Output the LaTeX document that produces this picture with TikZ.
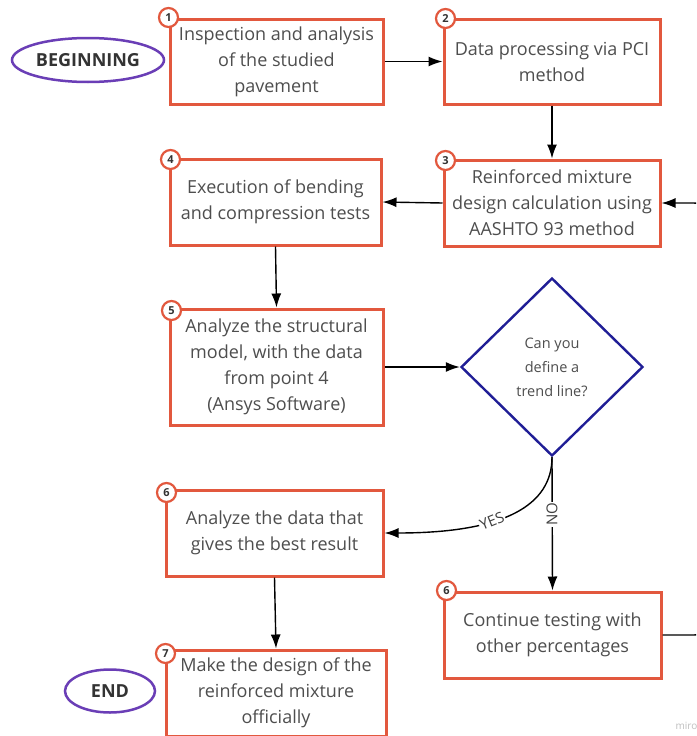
\documentclass[tikz,border=0pt]{standalone}
\usepackage{fontspec}
\setmainfont{Open Sans}
\usetikzlibrary{arrows.meta,shapes.geometric,calc}
\definecolor{boxred}{RGB}{226,88,62}
\definecolor{startpurple}{RGB}{106,62,182}
\definecolor{decblue}{RGB}{32,30,150}
\definecolor{txtgray}{RGB}{78,78,78}
\tikzset{
  stepbox/.style={draw=boxred, line width=3pt, fill=white, align=center, text=txtgray,
    font=\fontsize{18}{26}\selectfont, inner sep=0pt},
  badge/.style={circle, draw=boxred, line width=2.2pt, fill=white, minimum size=19pt, inner sep=0pt,
    font=\bfseries\fontsize{11}{11}\selectfont, text=black!80},
  term/.style={ellipse, draw=startpurple, line width=2.5pt, fill=white, inner sep=0pt,
    font=\bfseries\fontsize{18}{18}\selectfont, text=black!80},
  decision/.style={diamond, draw=decblue, line width=2.4pt, fill=white, inner sep=0pt, aspect=1.02,
    align=center, text=txtgray, font=\fontsize{14.5}{24}\selectfont},
  conn/.style={line width=1.4pt, -{Latex[length=14pt,width=10pt]}},
  lbl/.style={fill=white, inner sep=1pt, text=black!75, font=\fontsize{15}{15}\selectfont}
}
\begin{document}
\begin{tikzpicture}[x=1pt,y=-1pt]
\useasboundingbox (0,0) rectangle (696,736);
\clip (0,0) rectangle (696,736);
\fill[white] (0,0) rectangle (696,736);

% terminals
\node[term, minimum width=152pt, minimum height=44pt] (begin) at (88,60) {BEGINNING};
\node[term, minimum width=90pt, minimum height=43pt] (end) at (110,691) {END};

% boxes
\node[stepbox, minimum width=213pt, minimum height=85pt] (b1) at (276.5,61.5)
  {Inspection and analysis\\of the studied\\pavement};
\node[stepbox, minimum width=216pt, minimum height=85pt] (b2) at (552,61.5)
  {Data processing via PCI\\method};
\node[stepbox, minimum width=216pt, minimum height=86pt] (b3) at (552,203)
  {Reinforced mixture\\design calculation using\\AASHTO 93 method};
\node[stepbox, minimum width=211pt, minimum height=86pt] (b4) at (275.5,202)
  {Execution of bending\\and compression tests};
\node[stepbox, minimum width=213pt, minimum height=116pt] (b5) at (276.5,367)
  {Analyze the structural\\model, with the data\\from point 4\\(Ansys Software)};
\node[decision, minimum width=182pt, minimum height=178pt] (dec) at (552,367)
  {Can you\\define a\\trend line?};
\node[stepbox, minimum width=217pt, minimum height=86pt] (b6) at (274.5,533)
  {Analyze the data that\\gives the best result};
\node[stepbox, minimum width=217pt, minimum height=86pt] (b6n) at (552.5,635)
  {Continue testing with\\other percentages};
\node[stepbox, minimum width=220pt, minimum height=86pt] (b7) at (276,693)
  {Make the design of the\\reinforced mixture\\officially};

% badges
\node[badge] (n1) at (b1.north west) {1};
\node[badge] (n2) at ($(b2.north west)+(3,1)$) {2};
\node[badge] (n3) at ($(b3.north west)+(3,2)$) {3};
\node[badge] (n4) at ($(b4.north west)+(2,2)$) {4};
\node[badge] (n5) at ($(b5.north west)+(3,3)$) {5};
\node[badge] (n6) at ($(b6.north west)+(2,4)$) {6};
\node[badge] (n6n) at ($(b6n.north west)+(4,0)$) {6};
\node[badge] (n7) at ($(b7.north west)+(1,5)$) {7};

% connectors
\draw[conn] (b1.east) -- (b2.west);
\draw[conn] (b2.south) -- (b3.north);
\draw[conn] (b3.west) -- (b4.east);
\draw[conn] (b4.south) -- (b5.north);
\draw[conn] (b5.east) -- (dec.west);
\draw[conn] (b6.south) -- (b7.north);
\draw[conn] (dec.south) .. controls (552,505) and (505,533) .. (b6.east);
\draw[conn] (dec.south) -- (b6n.north);
\coordinate (loopx) at (712,0);
\draw[conn, rounded corners=18pt] (b6n.east) -- (b6n.east -| loopx) -- (b3.east -| loopx) -- (b3.east);

% labels
\node[lbl, rotate=22] (yes) at (492,521) {YES};
\node[lbl, rotate=90] (no) at (552,514) {NO};

% watermark
\node[anchor=west, text=black!25, font=\fontsize{10}{10}\selectfont] (miro) at (672,726) {miro};
\end{tikzpicture}
\end{document}
